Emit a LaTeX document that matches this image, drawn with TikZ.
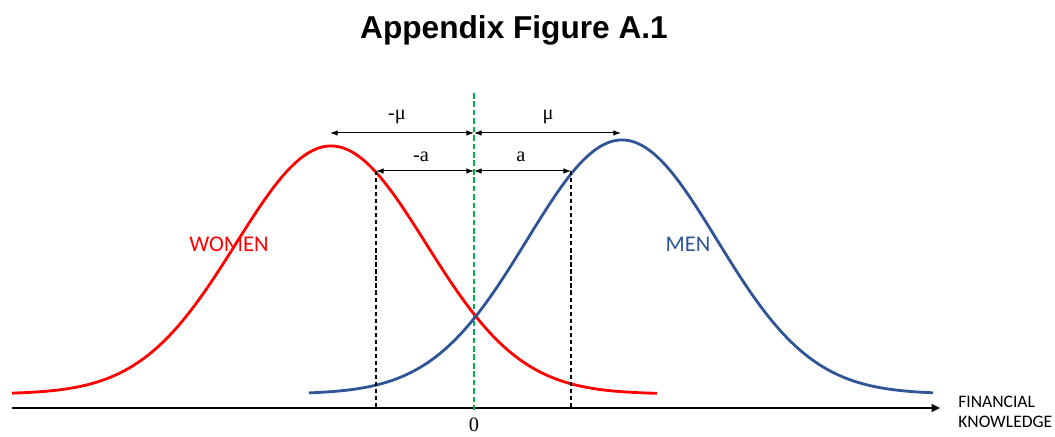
\documentclass[tikz,border=0pt]{standalone}
\usepackage{fontspec}
\setmainfont{Liberation Serif}
\newfontfamily\titlefont{Liberation Sans}
\newfontfamily\labelfont{Carlito}
\usetikzlibrary{arrows.meta}
\definecolor{womenred}{RGB}{255,0,0}
\definecolor{menblue}{RGB}{47,85,151}
\definecolor{zerogreen}{RGB}{0,176,80}
\tikzset{
  curve/.style={line width=2pt, smooth, samples=140},
  gap/.style={{Latex[length=5.5pt,width=4pt]}-{Latex[length=5.5pt,width=4pt]}, line width=0.7pt},
  drop/.style={line width=1pt, dash pattern=on 3pt off 2pt},
  sign/.style={font=\fontsize{14.5}{17}\selectfont},
  group/.style={font=\labelfont\fontsize{16}{19}\selectfont},
}
\begin{document}
\begin{tikzpicture}
  \useasboundingbox (0,0) rectangle (26.375,10.925);
  % Titre
  \node (title) at (12.85,10.175) {\titlefont\bfseries\fontsize{22.5}{27}\selectfont Appendix Figure A.1};
  % Axe
  \coordinate (start) at (0.3,0.725);
  \coordinate (end) at (23.5,0.725);
  \draw[line width=1.6pt,-{Triangle[length=6pt,width=5.5pt]}] (start) -- (end);
  \node[anchor=west, align=left, inner sep=0pt, font=\labelfont\fontsize{12.5}{14.5}\selectfont] (axislabel) at (23.95,0.625) {FINANCIAL\\KNOWLEDGE};
  % Zero
  \coordinate (zero) at (11.85,0.675);
  \coordinate (top) at (11.85,8.6);
  \draw[line width=1pt, dash pattern=on 4pt off 2pt, zerogreen] (top) -- (zero);
  \node[sign, inner sep=1pt] (zerolabel) at (11.85,0.3) {0};
  % Courbes
  \node[group, text=womenred] (women) at (5.725,4.825) {WOMEN};
  \node[group, text=menblue] (men) at (17.2,4.825) {MEN};
  \draw[curve, womenred, domain=0.3:16.425] plot (\x, {1.075+6.2*exp(0-((\x-8.275)*(\x-8.275))/11.28)});
  \draw[curve, menblue, domain=7.725:23.325] plot (\x, {1.075+6.35*exp(0-((\x-15.55)*(\x-15.55))/11.28)});
  % Ecarts
  \coordinate (muL) at (8.25,7.6);
  \coordinate (muC) at (11.85,7.6);
  \coordinate (muR) at (15.525,7.6);
  \coordinate (aL) at (9.4,6.65);
  \coordinate (aC) at (11.85,6.65);
  \coordinate (aR) at (14.275,6.65);
  \coordinate (aLfoot) at (9.4,0.725);
  \coordinate (aRfoot) at (14.275,0.725);
  \draw[gap] (muL) -- (muC);
  \draw[gap] (muC) -- (muR);
  \draw[gap] (aL) -- (aC);
  \draw[gap] (aC) -- (aR);
  \draw[drop] (aL) -- (aLfoot);
  \draw[drop] (aR) -- (aRfoot);
  \node[sign] (minusmu) at (9.925,8.0) {-μ};
  \node[sign] (mu) at (13.7,8.0) {μ};
  \node[sign] (minusa) at (10.525,7.0) {-a};
  \node[sign] (a) at (13.025,7.0) {a};
\end{tikzpicture}
\end{document}
